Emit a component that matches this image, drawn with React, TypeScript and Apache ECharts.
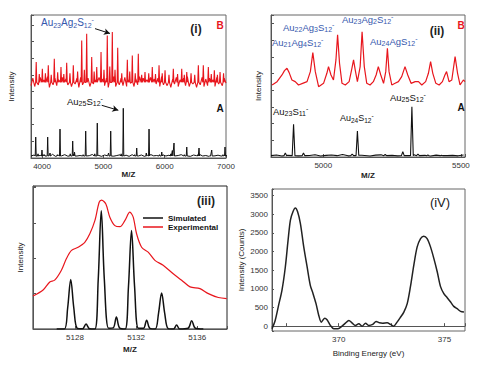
import React, { useEffect, useRef } from 'react';
import * as echarts from 'echarts';

const FONT = '"Liberation Sans", Arial, sans-serif';
const RED = '#e8161d';
const BLUE = '#3557ad';
const INK = '#222';

// ---------- Panel (i): MALDI spectra, full range ----------
const p1Ticks = [4000, 5000, 6000, 7000];
const p1BaseStart = 3820;
const p1BlackStep = 50;
const p1BlackBase = [
  0.12, 0.18, 0.1, 0.16, 0.2, 0.12, 0.15, 0.22, 0.1, 0.17, 0.13, 0.2, 0.11, 0.16, 0.24, 0.12, 0.15, 0.19, 0.1, 0.14,
  0.21, 0.12, 0.16, 0.1, 0.18, 0.13, 0.22, 0.11, 0.15, 0.19, 0.12, 0.17, 0.1, 0.2, 0.14, 0.12, 0.18, 0.1, 0.16, 0.21,
  0.13, 0.15, 0.1, 0.19, 0.12, 0.17, 0.22, 0.11, 0.15, 0.2, 0.12, 0.16, 0.1, 0.18, 0.14, 0.21, 0.12, 0.15, 0.1, 0.19,
  0.13, 0.17, 0.12, 0.16, 0.14,
];
const p1BlackPeaks: [number, number][] = [
  [3897, 1.26], [3935, 0.25], [3999, 0.48], [4040, 0.2], [4092, 1.26], [4130, 0.3], [4250, 0.2], [4293, 1.74],
  [4460, 0.25], [4500, 1.02], [4530, 0.35], [4670, 0.2], [4712, 1.62], [4860, 0.25], [4901, 2.1], [5085, 0.3],
  [5120, 1.62], [5290, 0.25], [5325, 2.99], [5510, 0.2], [5544, 0.6], [5700, 0.3], [5745, 1.74], [5915, 0.2],
  [5952, 0.36], [6100, 0.25], [6125, 0.45], [6152, 0.9], [6320, 0.2], [6360, 0.66], [6540, 0.2], [6560, 0.6],
  [6740, 0.15], [6767, 0.48], [6950, 0.2], [6984, 0.66],
];
const p1RedStep = 30;
const p1RedBase = [
  4.35, 4.8, 4.3, 4.75, 4.4, 4.85, 4.3, 4.7, 4.45, 4.9, 4.25, 4.75, 4.4, 4.8, 4.35, 4.7, 4.5, 4.85, 4.3, 4.75,
  4.4, 4.9, 4.3, 4.7, 4.45, 4.8, 4.25, 4.85, 4.4, 4.75, 4.35, 4.8, 4.3, 4.9, 4.45, 4.7, 4.3, 4.85, 4.4, 4.75,
  4.35, 4.8, 4.25, 4.7, 4.45, 4.9, 4.3, 4.75, 4.4, 4.8, 4.35, 4.85, 4.3, 4.7, 4.5, 4.8, 4.3, 4.75, 4.4, 4.9,
  4.25, 4.8, 4.4, 4.7, 4.35, 4.85, 4.3, 4.75, 4.45, 4.8, 4.3, 4.9, 4.4, 4.7, 4.35, 4.8, 4.25, 4.75, 4.45, 4.85,
  4.3, 4.7, 4.4, 4.8, 4.35, 4.9, 4.3, 4.75, 4.45, 4.8, 4.25, 4.7, 4.4, 4.85, 4.3, 4.75, 4.35, 4.8, 4.4, 4.7,
  4.3, 4.85, 4.45, 4.75, 4.35, 4.8, 4.5,
];
const p1RedPeaks: [number, number][] = [
  [3905, 5.77], [3955, 5.05], [4005, 5.37], [4055, 5.1], [4102, 5.57], [4150, 5.0], [4200, 5.97], [4255, 5.15],
  [4309, 5.47], [4355, 5.05], [4402, 5.73], [4455, 5.1], [4510, 5.57], [4580, 5.2], [4647, 7.07], [4690, 5.3],
  [4728, 7.47], [4810, 6.07], [4850, 5.2], [4892, 5.47], [4962, 6.37], [5010, 5.3], [5064, 7.37], [5105, 5.5],
  [5146, 7.57], [5190, 5.3], [5234, 6.63], [5300, 5.1], [5391, 5.91], [5430, 5.2], [5472, 6.17], [5520, 5.1],
  [5570, 6.27], [5625, 5.0], [5679, 5.17], [5740, 5.1], [5798, 5.47], [5850, 5.05], [5908, 5.57], [5960, 5.1],
  [6006, 5.27], [6070, 5.0], [6141, 5.37], [6210, 5.05], [6278, 5.37], [6320, 5.0], [6360, 5.17], [6430, 5.1],
  [6490, 5.0], [6549, 5.57], [6630, 5.57], [6712, 5.47], [6760, 5.05], [6810, 5.27], [6860, 5.0], [6903, 5.17],
  [6960, 5.1],
];

// ---------- Panel (ii): zoomed MALDI ----------
const p2Ticks = [5000, 5500];
const p2BaseStart = 4810;
const p2BlackStep = 20;
const p2BlackBase = [
  0.08, 0.12, 0.06, 0.1, 0.14, 0.07, 0.11, 0.09, 0.13, 0.06, 0.1, 0.12, 0.08, 0.15, 0.07, 0.1, 0.12, 0.09, 0.06, 0.11,
  0.13, 0.08, 0.1, 0.07, 0.12, 0.09, 0.14, 0.08, 0.1, 0.06, 0.11, 0.13, 0.08, 0.1, 0.07, 0.12,
];
const p2BlackPeaks: [number, number][] = [
  [4862, 0.24], [4892, 1.96], [4928, 0.24], [5105, 0.18], [5124, 1.56], [5225, 0.15], [5289, 0.32],
  [5322, 3.01], [5344, 0.18], [5380, 0.12], [5430, 0.1],
];
const p2Red: [number, number][] = [
  [4814, 4.31], [4832, 4.51], [4850, 4.91], [4859, 5.17], [4868, 5.31], [4876, 5.05], [4886, 4.61], [4898, 4.51],
  [4910, 4.31], [4925, 4.41], [4941, 4.51], [4953, 5.11], [4962, 6.25], [4971, 5.11], [4983, 4.21], [5001, 4.41],
  [5013, 5.01], [5019, 5.41], [5028, 4.91], [5037, 4.61], [5046, 5.81], [5052, 7.31], [5059, 5.61], [5068, 4.41],
  [5080, 4.31], [5094, 4.51], [5104, 5.31], [5110, 5.81], [5116, 5.21], [5124, 4.51], [5134, 5.41], [5141, 7.5],
  [5149, 5.41], [5158, 4.41], [5170, 4.31], [5182, 4.51], [5192, 4.91], [5200, 5.41], [5209, 4.91], [5219, 4.41],
  [5227, 5.11], [5233, 6.51], [5239, 5.11], [5249, 4.31], [5261, 4.41], [5273, 4.51], [5285, 4.81], [5297, 5.41],
  [5307, 4.91], [5319, 4.41], [5334, 4.51], [5346, 4.51], [5358, 4.31], [5372, 4.51], [5382, 5.01], [5390, 5.71],
  [5398, 5.01], [5409, 4.41], [5421, 4.31], [5433, 4.51], [5442, 4.91], [5448, 5.11], [5457, 4.51], [5467, 4.61],
  [5479, 6.01], [5488, 5.01], [5497, 4.31], [5509, 4.61], [5515, 4.51],
];

// ---------- Panel (iii): isotope pattern ----------
const p3Ticks = [5128, 5132, 5136];
const p3Simulated: [number, number][] = [
  [5126.8, 0], [5127.3, 0], [5127.52, 0.6], [5127.72, 1.4], [5127.92, 0.6], [5128.15, 0.02], [5128.5, 0.01],
  [5128.72, 0.14], [5128.95, 0.01], [5129.3, 0], [5129.52, 1.4], [5129.72, 3.34], [5129.92, 1.4], [5130.2, 0.02],
  [5130.5, 0.03], [5130.71, 0.34], [5130.92, 0.03], [5131.28, 0], [5131.5, 1.2], [5131.7, 2.78], [5131.9, 1.2],
  [5132.15, 0.02], [5132.48, 0.02], [5132.69, 0.25], [5132.9, 0.02], [5133.25, 0], [5133.47, 0.45], [5133.67, 1.02],
  [5133.87, 0.45], [5134.1, 0.01], [5134.45, 0], [5134.65, 0.11], [5134.85, 0], [5135.4, 0.02], [5135.64, 0.23],
  [5135.88, 0.02], [5136.4, 0],
];
const p3Experimental: [number, number][] = [
  [5125.25, 0.93], [5125.91, 1.1], [5126.35, 1.33], [5126.67, 1.38], [5127.11, 1.66], [5127.44, 1.99], [5127.77, 2.22],
  [5128.2, 2.31], [5128.64, 2.45], [5128.97, 2.69], [5129.3, 3.06], [5129.58, 3.58], [5129.74, 3.64], [5130.02, 3.53],
  [5130.28, 3.16], [5130.61, 2.92], [5130.94, 2.89], [5131.26, 3.06], [5131.59, 3.3], [5131.81, 3.16], [5132.03, 2.69],
  [5132.36, 2.31], [5132.79, 2.17], [5133.23, 1.94], [5133.77, 1.8], [5134.43, 1.56], [5134.98, 1.38], [5135.53, 1.19],
  [5136.18, 1.14], [5136.73, 1.0], [5137.38, 0.89], [5137.93, 0.86],
];

// ---------- Panel (iv): XPS Ag 3d ----------
const p4XTicks = [370, 375];
const p4YTicks = [0, 500, 1000, 1500, 2000, 2500, 3000, 3500];
const p4Curve: [number, number][] = [
  [366.85, -70], [367.0, 153], [367.16, 557], [367.32, 961], [367.48, 1588], [367.61, 2307], [367.72, 2845],
  [367.84, 3069], [367.95, 3170], [368.06, 3069], [368.19, 2757], [368.35, 2127], [368.51, 1588], [368.66, 1096],
  [368.79, 872], [368.93, 603], [369.06, 288], [369.18, 108], [369.34, 215], [369.45, 172], [369.61, 19],
  [369.77, -70], [369.97, -70], [370.16, 0], [370.32, 81], [370.48, 153], [370.64, 81], [370.79, 19], [370.95, 64],
  [371.11, 0], [371.27, 81], [371.42, 19], [371.61, 46], [371.77, 126], [371.93, 90], [372.08, 81], [372.29, 90],
  [372.45, 46], [372.6, 0], [372.76, 108], [372.92, 238], [373.08, 377], [373.24, 603], [373.39, 1051],
  [373.55, 1633], [373.71, 2127], [373.87, 2351], [374.02, 2414], [374.18, 2351], [374.34, 2127], [374.5, 1812],
  [374.66, 1453], [374.81, 1068], [374.97, 872], [375.13, 764], [375.29, 647], [375.44, 531], [375.6, 468],
  [375.76, 397], [375.92, 378],
];

function sampled(start: number, step: number, vals: number[]): [number, number][] {
  return vals.map((v, i) => [start + i * step, v]);
}
function withSticks(base: [number, number][], peaks: [number, number][], hw: number, foot: number) {
  const kept = base.filter(([x]) => !peaks.some(([p]) => Math.abs(x - p) <= hw));
  const pts: [number, number][] = [...kept];
  peaks.forEach(([p, h]) => {
    pts.push([p - hw, foot], [p, h], [p + hw, foot]);
  });
  return pts.sort((a, b) => a[0] - b[0]);
}

function t2s(v: number) {
  return Math.round(v * 1000) / 1000;
}
const onlyTicks = (list: number[]) => (v: number) =>
  list.some((t) => Math.abs(t - v) < 1e-6) ? String(t2s(v)) : '';

const richStyles = (main: number, sub: number) => ({
  m: { fontSize: main, fontFamily: FONT, lineHeight: main + 3 },
  s: { fontSize: sub, fontFamily: FONT, lineHeight: sub, verticalAlign: 'bottom' },
  p: { fontSize: sub, fontFamily: FONT, lineHeight: sub, verticalAlign: 'top' },
});
function chem(parts: [string, string][]) {
  return parts.map(([k, t]) => `{${k}|${t}}`).join('');
}

function ionLabel(x: number, y: number, parts: [string, string][], color: string, main: number, sub: number) {
  return {
    type: 'text',
    x,
    y,
    style: {
      text: chem(parts),
      rich: richStyles(main, sub),
      fill: color,
      align: 'left',
      verticalAlign: 'middle',
    },
  };
}
function plainText(x: number, y: number, text: string, color: string, size: number, weight = 'bold') {
  return {
    type: 'text',
    x,
    y,
    style: { text, fill: color, fontSize: size, fontWeight: weight, fontFamily: FONT, align: 'center', verticalAlign: 'middle' },
  };
}

const axisLineStyle = { color: '#555', width: 1 };

function xAxis(gi: number, min: number, max: number, step: number, ticks: number[], name: string, nameGap: number) {
  return {
    type: 'value',
    gridIndex: gi,
    min,
    max,
    minInterval: step,
    maxInterval: step,
    splitNumber: Math.max(1, Math.round((max - min) / step)),
    name,
    nameLocation: 'middle',
    nameGap,
    nameTextStyle: { fontSize: 8, color: INK, fontFamily: FONT, fontWeight: 'bold' },
    axisLine: { lineStyle: axisLineStyle },
    axisTick: { inside: true, length: 3, lineStyle: axisLineStyle },
    splitLine: { show: false },
    axisLabel: { fontSize: 8, color: '#333', fontFamily: FONT, margin: 4, formatter: onlyTicks(ticks) },
  };
}
function yAxisBlank(gi: number, max: number, name: string, nameGap: number) {
  return {
    type: 'value',
    gridIndex: gi,
    min: 0,
    max,
    interval: 1,
    name,
    nameLocation: 'middle',
    nameGap,
    nameTextStyle: { fontSize: 8, color: INK, fontFamily: FONT },
    axisLine: { show: true, lineStyle: axisLineStyle },
    axisTick: { show: true, inside: true, length: 3, lineStyle: axisLineStyle },
    splitLine: { show: false },
    axisLabel: { show: false },
  };
}

export default function App() {
  const ref = useRef<HTMLDivElement>(null);
  useEffect(() => {
    if (!ref.current) return;
    const chart = echarts.init(ref.current, undefined, { renderer: 'svg' });

    const p1Black = withSticks(sampled(p1BaseStart, p1BlackStep, p1BlackBase), p1BlackPeaks, 8, 0.12);
    const p1Red = withSticks(sampled(p1BaseStart, p1RedStep, p1RedBase), p1RedPeaks, 9, 4.55);
    const p2Black = withSticks(sampled(p2BaseStart, p2BlackStep, p2BlackBase), p2BlackPeaks, 5, 0.08);

    const gridBase = { show: true, borderColor: '#666', borderWidth: 1, containLabel: false };

    const option: any = {
      animation: false,
      backgroundColor: '#fff',
      textStyle: { fontFamily: FONT },
      grid: [
        { ...gridBase, left: 31, top: 15, width: 195, height: 143 },
        { ...gridBase, left: 271, top: 15, width: 194, height: 142 },
        { ...gridBase, left: 33, top: 186, width: 194, height: 143, borderColor: '#222' },
        { ...gridBase, left: 272, top: 189, width: 193, height: 142 },
      ],
      xAxis: [
        xAxis(0, 3820, 7000, 1000, p1Ticks, 'M/Z', 12),
        xAxis(1, 4810, 5515, 500, p2Ticks, 'M/Z', 14),
        xAxis(2, 5125.25, 5137.95, 4, p3Ticks, 'M/Z', 16),
        {
          ...xAxis(3, 366.85, 375.97, 2.5, p4XTicks, 'Binding Energy (eV)', 18),
          nameTextStyle: { fontSize: 8, color: INK, fontFamily: FONT },
        },
      ],
      yAxis: [
        yAxisBlank(0, 8.6, 'Intensity', 16),
        yAxisBlank(1, 8.5, 'Intensity', 9),
        yAxisBlank(2, 4.04, 'Intensity', 9),
        {
          type: 'value',
          gridIndex: 3,
          min: -130,
          max: 3680,
          minInterval: 500,
          maxInterval: 500,
          splitNumber: 8,
          name: 'Intensity (Counts)',
          nameLocation: 'middle',
          nameGap: 27,
          nameTextStyle: { fontSize: 8, color: INK, fontFamily: FONT },
          axisLine: { show: true, lineStyle: axisLineStyle },
          axisTick: { show: true, inside: true, length: 2, lineStyle: axisLineStyle },
          splitLine: { show: false },
          axisLabel: { fontSize: 8, color: '#333', fontFamily: FONT, margin: 4, formatter: onlyTicks(p4YTicks) },
        },
      ],
      legend: {
        data: ['Simulated', 'Experimental'],
        left: 143,
        top: 214,
        orient: 'vertical',
        icon: 'rect',
        itemWidth: 20,
        itemHeight: 1.5,
        itemGap: 1,
        padding: 0,
        textStyle: { fontSize: 8, color: '#111', fontFamily: FONT, fontWeight: 'bold' },
      },
      series: [
        {
          type: 'line',
          xAxisIndex: 0,
          yAxisIndex: 0,
          data: p1Red,
          symbol: 'none',
          lineStyle: { color: RED, width: 1.1 },
          itemStyle: { color: RED },
          clip: true,
          markLine: {
            silent: true,
            symbol: ['none', 'arrow'],
            symbolSize: [5, 6],
            label: { show: false },
            lineStyle: { color: '#111', width: 1, type: 'solid' },
            data: [[{ coord: [4864, 7.78] }, { coord: [5108, 7.49] }]],
          },
        },
        {
          type: 'line',
          xAxisIndex: 0,
          yAxisIndex: 0,
          data: p1Black,
          symbol: 'none',
          lineStyle: { color: '#111', width: 1 },
          itemStyle: { color: '#111' },
          clip: true,
          markLine: {
            silent: true,
            symbol: ['none', 'arrow'],
            symbolSize: [5, 6],
            label: { show: false },
            lineStyle: { color: '#111', width: 1, type: 'solid' },
            data: [[{ coord: [4973, 3.17] }, { coord: [5244, 2.87] }]],
          },
        },
        {
          type: 'line',
          xAxisIndex: 1,
          yAxisIndex: 1,
          data: p2Red,
          symbol: 'none',
          lineStyle: { color: RED, width: 1.2 },
          itemStyle: { color: RED },
          clip: true,
        },
        {
          type: 'line',
          xAxisIndex: 1,
          yAxisIndex: 1,
          data: p2Black,
          symbol: 'none',
          lineStyle: { color: '#111', width: 1.1 },
          itemStyle: { color: '#111' },
          clip: true,
        },
        {
          name: 'Simulated',
          type: 'line',
          xAxisIndex: 2,
          yAxisIndex: 2,
          data: p3Simulated,
          symbol: 'none',
          smooth: 0.35,
          lineStyle: { color: '#111', width: 1.5 },
          itemStyle: { color: '#111' },
        },
        {
          name: 'Experimental',
          type: 'line',
          xAxisIndex: 2,
          yAxisIndex: 2,
          data: p3Experimental,
          symbol: 'none',
          smooth: 0.3,
          lineStyle: { color: RED, width: 1.2 },
          itemStyle: { color: RED },
        },
        {
          type: 'line',
          xAxisIndex: 3,
          yAxisIndex: 3,
          data: p4Curve,
          symbol: 'none',
          smooth: 0.3,
          lineStyle: { color: '#222', width: 1.5 },
          itemStyle: { color: '#222' },
          clip: true,
        },
      ],
      graphic: [
        ionLabel(41, 22, [['m', 'Au'], ['s', '23'], ['m', 'Ag'], ['s', '2'], ['m', 'S'], ['s', '12'], ['p', '-']], BLUE, 10, 7),
        ionLabel(67, 101, [['m', 'Au'], ['s', '25'], ['m', 'S'], ['s', '12'], ['p', '-']], '#111', 9.5, 7),
        plainText(196, 29, '(i)', '#222', 12),
        plainText(220, 25, 'B', RED, 10),
        plainText(220, 108, 'A', '#111', 10),

        ionLabel(283, 27, [['m', 'Au'], ['s', '22'], ['m', 'Ag'], ['s', '3'], ['m', 'S'], ['s', '12'], ['p', '-']], BLUE, 9.5, 7),
        ionLabel(272, 42, [['m', 'Au'], ['s', '21'], ['m', 'Ag'], ['s', '4'], ['m', 'S'], ['s', '12'], ['p', '-']], BLUE, 9.5, 7),
        ionLabel(342, 19, [['m', 'Au'], ['s', '23'], ['m', 'Ag'], ['s', '2'], ['m', 'S'], ['s', '12'], ['p', '-']], BLUE, 9.5, 7),
        ionLabel(370, 41, [['m', 'Au'], ['s', '24'], ['m', 'AgS'], ['s', '12'], ['p', '-']], BLUE, 9.5, 7),
        ionLabel(273, 111, [['m', 'Au'], ['s', '23'], ['m', 'S'], ['s', '11'], ['p', '-']], '#111', 9.5, 7),
        ionLabel(340, 118, [['m', 'Au'], ['s', '24'], ['m', 'S'], ['s', '12'], ['p', '-']], '#111', 9, 6.5),
        ionLabel(390, 97, [['m', 'Au'], ['s', '25'], ['m', 'S'], ['s', '12'], ['p', '-']], '#111', 9.5, 7),
        plainText(437, 31, '(ii)', '#222', 12),
        plainText(461, 25, 'B', RED, 10),
        plainText(461, 107, 'A', '#111', 10),

        plainText(206, 201, '(iii)', '#222', 12),
        plainText(440, 202, '(iV)', '#222', 13, 'normal'),
      ],
    };
    chart.setOption(option);
    return () => chart.dispose();
  }, []);
  return (
    <div
      ref={ref}
      style={{ position: 'absolute', left: 0, top: 0, width: 490, height: 367, background: '#fff' }}
    />
  );
}
